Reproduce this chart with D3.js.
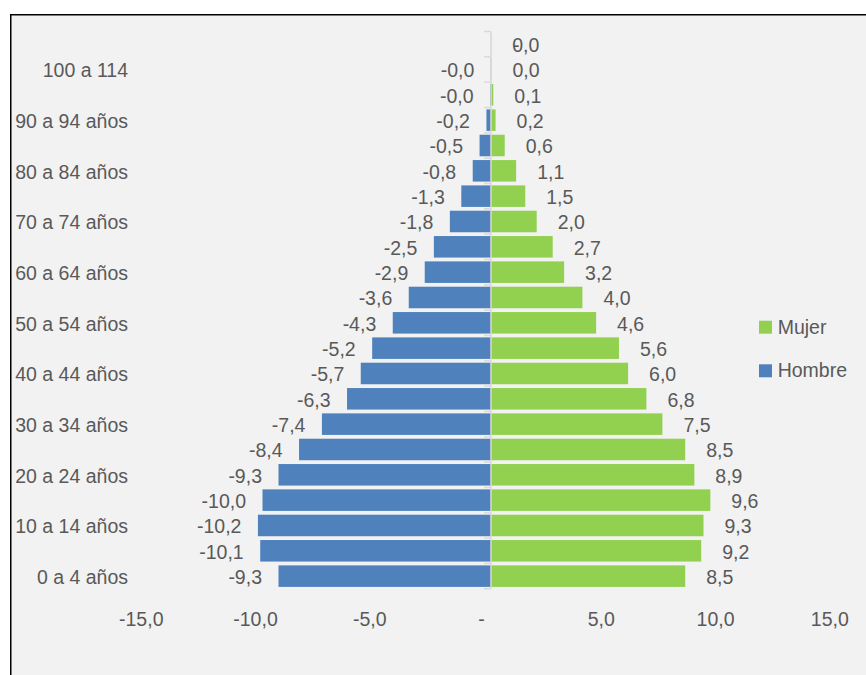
<!DOCTYPE html>
<html>
<head>
<meta charset="utf-8">
<script src="https://cdn.jsdelivr.net/npm/d3@7"></script>
<style>
  html, body { margin: 0; padding: 0; background: #ffffff; }
  svg { display: block; }
  text { font-family: "Liberation Sans", Arial, sans-serif; font-size: 19.5px; fill: #595959; }
</style>
</head>
<body>
<svg id="chart" width="866" height="675"></svg>
<script>
// ---- Data ----
const categories = [
  "0 a 4 años", "5 a 9 años", "10 a 14 años", "15 a 19 años", "20 a 24 años",
  "25 a 29 años", "30 a 34 años", "35 a 39 años", "40 a 44 años", "45 a 49 años",
  "50 a 54 años", "55 a 59 años", "60 a 64 años", "65 a 69 años", "70 a 74 años",
  "75 a 79 años", "80 a 84 años", "85 a 89 años", "90 a 94 años", "95 a 99 años",
  "100 a 114", "No especificado"
];
const hombre = [-9.3, -10.1, -10.2, -10.0, -9.3, -8.4, -7.4, -6.3, -5.7, -5.2,
  -4.3, -3.6, -2.9, -2.5, -1.8, -1.3, -0.8, -0.5, -0.2, -0.04, -0.01, 0];
const mujer = [8.5, 9.2, 9.3, 9.6, 8.9, 8.5, 7.5, 6.8, 6.0, 5.6,
  4.6, 4.0, 3.2, 2.7, 2.0, 1.5, 1.1, 0.6, 0.2, 0.1, 0.02, 0.01];
const xTicks = [-15, -10, -5, 0, 5, 10, 15];
const seriesNames = ["Mujer", "Hombre"];
const seriesColors = ["#92d050", "#4f81bd"];

// ---- Formatting (Spanish decimal comma; zero shown as "-") ----
function fmt(v) {
  if (v === 0) return "-";
  return (v < 0 ? "-" : "") + Math.abs(v).toFixed(1).replace(".", ",");
}

const svg = d3.select("#chart");

// Chart frame
svg.append("rect")
  .attr("x", 10.75).attr("y", 14.75)
  .attr("width", 900).attr("height", 700)
  .attr("fill", "#f2f2f2")
  .attr("stroke", "#000").attr("stroke-width", 1.5);

// ---- Scales ----
const x = d3.scaleLinear().domain([-15, 15]).range([148.25, 833.75]);
const y = d3.scaleBand().domain(categories).range([588.8, 31.5])
  .paddingInner(0.15).paddingOuter(0.075);

const bw = y.bandwidth();
const step = y.step();

// ---- Bars ----
const gBars = svg.append("g");
gBars.selectAll("rect.h").data(categories).join("rect")
  .attr("class", "h")
  .attr("x", (c, i) => x(Math.min(0, hombre[i])))
  .attr("width", (c, i) => Math.abs(x(hombre[i]) - x(0)))
  .attr("y", c => y(c))
  .attr("height", bw)
  .attr("fill", seriesColors[1]);

gBars.selectAll("rect.m").data(categories).join("rect")
  .attr("class", "m")
  .attr("x", x(0))
  .attr("width", (c, i) => Math.abs(x(mujer[i]) - x(0)))
  .attr("y", c => y(c))
  .attr("height", bw)
  .attr("fill", seriesColors[0]);

// ---- Vertical category axis (line + boundary ticks) ----
const gAxisY = svg.append("g");
const boundaries = categories.map(c => y(c) + bw / 2 + step / 2);
boundaries.push(y(categories[categories.length - 1]) + bw / 2 - step / 2);
gAxisY.append("line")
  .attr("x1", x(0)).attr("x2", x(0))
  .attr("y1", d3.min(boundaries)).attr("y2", d3.max(boundaries))
  .attr("stroke", "#d9d9d9").attr("stroke-width", 1.5);
gAxisY.selectAll("line.tk").data(boundaries).join("line")
  .attr("class", "tk")
  .attr("x1", x(0) - 7).attr("x2", x(0))
  .attr("y1", d => d).attr("y2", d => d)
  .attr("stroke", "#d9d9d9").attr("stroke-width", 1.5);

// Category labels (every other one)
svg.append("g").selectAll("text")
  .data(categories.map((c, i) => ({ c, i })).filter(d => d.i % 2 === 0 && d.i <= 20))
  .join("text")
  .attr("x", 128)
  .attr("y", d => y(d.c) + bw / 2 + 7.7)
  .attr("text-anchor", "end")
  .text(d => d.c);

// ---- Horizontal value axis ----
const gX = svg.append("g").attr("transform", "translate(0,626)")
  .call(d3.axisBottom(x).tickValues(xTicks).tickSize(0).tickFormat(fmt));
gX.select(".domain").remove();
gX.selectAll("text")
  .attr("y", 0).attr("dy", 0)
  .attr("dx", d => d === 0 ? -10 : (d < 0 ? -7.5 : -4.5))
  .attr("fill", "#595959")
  .style("font-size", "19.5px")
  .style("font-family", "\"Liberation Sans\", Arial, sans-serif");

// ---- Data labels ----
const gLab = svg.append("g");
gLab.selectAll("text.hl").data(categories).join("text")
  .attr("class", "hl")
  .attr("x", (c, i) => hombre[i] < 0 ? x(hombre[i]) - 16.5 : x(0) + 22)
  .attr("y", c => y(c) + bw / 2 + 7.7)
  .attr("text-anchor", (c, i) => hombre[i] < 0 ? "end" : "start")
  .text((c, i) => fmt(hombre[i]));

gLab.selectAll("text.ml").data(categories).join("text")
  .attr("class", "ml")
  .attr("x", (c, i) => x(mujer[i]) + 21)
  .attr("y", c => y(c) + bw / 2 + 7.7)
  .attr("text-anchor", "start")
  .text((c, i) => fmt(mujer[i]));

// ---- Legend ----
const gLeg = svg.append("g");
const legY = [320.7, 364.3];
seriesNames.forEach((name, i) => {
  gLeg.append("rect")
    .attr("x", 759).attr("y", legY[i])
    .attr("width", 13).attr("height", 13)
    .attr("fill", seriesColors[i]);
  gLeg.append("text")
    .attr("x", 777.7).attr("y", legY[i] + 13)
    .text(name);
});
</script>
</body>
</html>
